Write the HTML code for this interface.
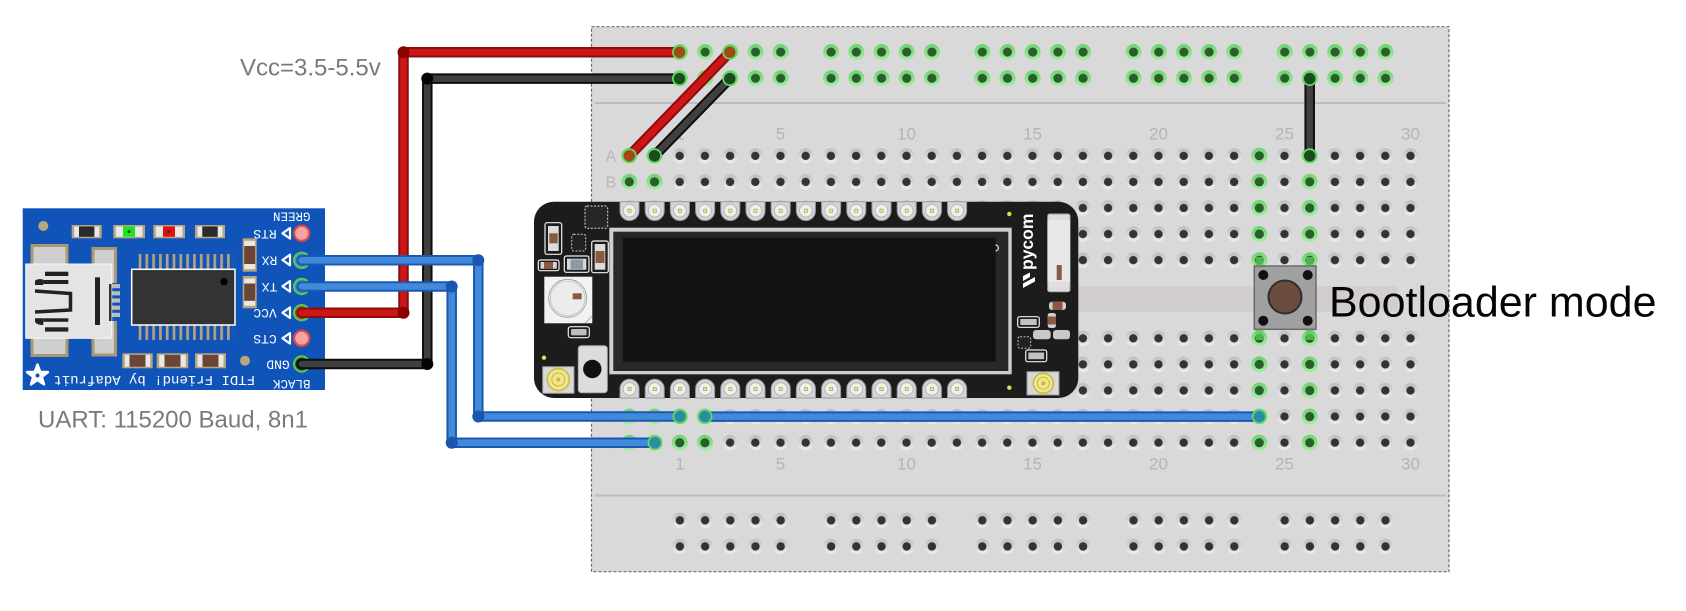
<!DOCTYPE html>
<html><head><meta charset="utf-8">
<style>html,body{margin:0;padding:0;background:#fff;}svg{display:block}</style></head>
<body>
<svg xmlns="http://www.w3.org/2000/svg" xmlns:xlink="http://www.w3.org/1999/xlink" width="1686" height="611" viewBox="0 0 1686 611">
<defs>
<linearGradient id="hg" x1="0" y1="0" x2="0" y2="1"><stop offset="0" stop-color="#bdbdbd"/><stop offset="1" stop-color="#eeeeee"/></linearGradient>
<linearGradient id="gg" x1="0" y1="0" x2="0" y2="1"><stop offset="0" stop-color="#6bd36b"/><stop offset="1" stop-color="#a9eca9"/></linearGradient>
<g id="dh"><circle r="7.6" fill="url(#hg)"/><circle r="4.2" fill="#333"/></g>
<g id="gh"><circle r="8" fill="url(#gg)"/><circle r="4.6" fill="#2c5e2c"/></g>
<pattern id="pm" patternUnits="userSpaceOnUse" x="616.7" y="142.77" width="25.2" height="26.07"><use href="#dh" x="12.6" y="13.03"/></pattern>
<pattern id="prg" patternUnits="userSpaceOnUse" x="667.3" y="39" width="151.2" height="26.2">
<use href="#gh" x="12.6" y="13.1"/><use href="#gh" x="37.8" y="13.1"/><use href="#gh" x="63" y="13.1"/><use href="#gh" x="88.2" y="13.1"/><use href="#gh" x="113.4" y="13.1"/>
</pattern>
<pattern id="prd" patternUnits="userSpaceOnUse" x="667.3" y="507.2" width="151.2" height="26.1">
<use href="#dh" x="12.6" y="13.1"/><use href="#dh" x="37.8" y="13.1"/><use href="#dh" x="63" y="13.1"/><use href="#dh" x="88.2" y="13.1"/><use href="#dh" x="113.4" y="13.1"/>
</pattern>
<pattern id="legs" patternUnits="userSpaceOnUse" x="138.65" y="0" width="6.8" height="611"><rect x="0" y="0" width="2.7" height="611" fill="#b5a27c"/></pattern>
<g id="pt"><path d="M-9.5,-9 H9.5 V0.3 A9.5,9.5 0 0 1 -9.5,0.3 Z" fill="#d4d4d4" stroke="#9c9c9c" stroke-width="1"/><circle r="6.3" fill="#efefef" stroke="#b0b0b0" stroke-width=".8"/><rect x="-1.6" y="-1.6" width="3.2" height="3.2" fill="#f1e48a" stroke="#a8983a" stroke-width=".6"/></g>
<g id="pb"><path d="M-9.5,9 H9.5 V-0.3 A9.5,9.5 0 0 0 -9.5,-0.3 Z" fill="#d4d4d4" stroke="#9c9c9c" stroke-width="1"/><circle r="6.3" fill="#efefef" stroke="#b0b0b0" stroke-width=".8"/><rect x="-1.6" y="-1.6" width="3.2" height="3.2" fill="#f1e48a" stroke="#a8983a" stroke-width=".6"/></g>
</defs>

<rect width="1686" height="611" fill="#fff"/>

<!-- Breadboard -->
<rect x="591.5" y="26.7" width="857.5" height="545" fill="#d9d9d9" stroke="#6a6a6a" stroke-width="1.2" stroke-dasharray="3 2"/>
<line x1="595" y1="103" x2="1446" y2="103" stroke="#bcbcbc" stroke-width="2"/>
<line x1="595" y1="495.5" x2="1446" y2="495.5" stroke="#bcbcbc" stroke-width="2"/>
<rect x="596" y="286" width="802" height="25.7" fill="#d2cdce"/>

<rect x="667.3" y="39" width="756" height="52.4" fill="url(#prg)"/>
<rect x="667.3" y="507.2" width="756" height="52.2" fill="url(#prd)"/>
<rect x="616.7" y="142.77" width="806.4" height="130.35" fill="url(#pm)"/>
<rect x="616.7" y="325.26" width="806.4" height="130.35" fill="url(#pm)"/>

<!-- green holes -->
<use href="#gh" x="629.3" y="155.8"/><use href="#gh" x="654.5" y="155.8"/><use href="#gh" x="1259.3" y="155.8"/><use href="#gh" x="1309.7" y="155.8"/>
<use href="#gh" x="629.3" y="181.9"/><use href="#gh" x="654.5" y="181.9"/><use href="#gh" x="1259.3" y="181.9"/><use href="#gh" x="1309.7" y="181.9"/>
<use href="#gh" x="1259.3" y="208"/><use href="#gh" x="1309.7" y="208"/>
<use href="#gh" x="1259.3" y="234.1"/><use href="#gh" x="1309.7" y="234.1"/>
<use href="#gh" x="1259.3" y="260.2"/><use href="#gh" x="1309.7" y="260.2"/>
<use href="#gh" x="1259.3" y="338.3"/><use href="#gh" x="1309.7" y="338.3"/>
<use href="#gh" x="1259.3" y="364.4"/><use href="#gh" x="1309.7" y="364.4"/>
<use href="#gh" x="1259.3" y="390.5"/><use href="#gh" x="1309.7" y="390.5"/>
<use href="#gh" x="629.3" y="416.6"/><use href="#gh" x="654.5" y="416.6"/><use href="#gh" x="679.7" y="416.6"/><use href="#gh" x="704.9" y="416.6"/><use href="#gh" x="1259.3" y="416.6"/><use href="#gh" x="1309.7" y="416.6"/>
<use href="#gh" x="629.3" y="442.7"/><use href="#gh" x="654.5" y="442.7"/><use href="#gh" x="679.7" y="442.7"/><use href="#gh" x="704.9" y="442.7"/><use href="#gh" x="1259.3" y="442.7"/><use href="#gh" x="1309.7" y="442.7"/>

<!-- breadboard labels -->
<g font-family="Liberation Sans, sans-serif" font-size="17" fill="#b4b4b4" text-anchor="middle">
<text x="680" y="139.3">1</text><text x="780.5" y="139.3">5</text><text x="906.5" y="139.3">10</text><text x="1032.5" y="139.3">15</text><text x="1158.5" y="139.3">20</text><text x="1284.5" y="139.3">25</text><text x="1410.5" y="139.3">30</text>
<text x="680" y="469.3">1</text><text x="780.5" y="469.3">5</text><text x="906.5" y="469.3">10</text><text x="1032.5" y="469.3">15</text><text x="1158.5" y="469.3">20</text><text x="1284.5" y="469.3">25</text><text x="1410.5" y="469.3">30</text>
</g>
<g font-family="Liberation Sans, sans-serif" font-size="16" fill="#b8b8b8" text-anchor="middle">
<text x="611" y="161.5">A</text><text x="611" y="187.6">B</text><text x="611" y="422.3">I</text><text x="611" y="448.4">J</text>
</g>

<!-- ESP board -->
<rect x="534" y="201.7" width="544.3" height="196.3" rx="20" fill="#1c1c1c"/>
<rect x="609.3" y="227.7" width="402.4" height="146.6" fill="#cfcfcf"/>
<rect x="613.3" y="231.7" width="395" height="139.3" fill="#282828"/>
<rect x="623" y="237.7" width="372.7" height="124" fill="#121212"/>
<path d="M995.5,245 a3,3 0 0 1 0,6" fill="none" stroke="#ddd" stroke-width="1.2"/>

<use href="#pt" x="629.5" y="210.7"/><use href="#pt" x="654.7" y="210.7"/><use href="#pt" x="679.9" y="210.7"/><use href="#pt" x="705.1" y="210.7"/><use href="#pt" x="730.3" y="210.7"/><use href="#pt" x="755.5" y="210.7"/><use href="#pt" x="780.7" y="210.7"/><use href="#pt" x="805.9" y="210.7"/><use href="#pt" x="831.1" y="210.7"/><use href="#pt" x="856.3" y="210.7"/><use href="#pt" x="881.5" y="210.7"/><use href="#pt" x="906.7" y="210.7"/><use href="#pt" x="931.9" y="210.7"/><use href="#pt" x="957.1" y="210.7"/>
<use href="#pb" x="629.5" y="389"/><use href="#pb" x="654.7" y="389"/><use href="#pb" x="679.9" y="389"/><use href="#pb" x="705.1" y="389"/><use href="#pb" x="730.3" y="389"/><use href="#pb" x="755.5" y="389"/><use href="#pb" x="780.7" y="389"/><use href="#pb" x="805.9" y="389"/><use href="#pb" x="831.1" y="389"/><use href="#pb" x="856.3" y="389"/><use href="#pb" x="881.5" y="389"/><use href="#pb" x="906.7" y="389"/><use href="#pb" x="931.9" y="389"/><use href="#pb" x="957.1" y="389"/>

<!-- ESP left components -->
<rect x="585" y="206" width="22.7" height="22.3" rx="2" fill="#262626" stroke="#dcdcdc" stroke-width="1" stroke-dasharray="2 1.5"/>
<rect x="545" y="222.7" width="16.7" height="31.6" rx="2" fill="#1c1c1c" stroke="#eee" stroke-width="1.2"/>
<rect x="548" y="226" width="10.7" height="25" fill="#dcdcdc"/>
<rect x="549.3" y="233.3" width="8.4" height="10" fill="#8a5a40"/>
<rect x="571.7" y="234.3" width="14" height="16.7" rx="2" fill="#222" stroke="#ccc" stroke-width="1" stroke-dasharray="2 1.5"/>
<rect x="591.7" y="241" width="16.6" height="31.7" rx="2" fill="#1c1c1c" stroke="#eee" stroke-width="1.2"/>
<rect x="594.7" y="244" width="10.6" height="25.7" fill="#dcdcdc"/>
<rect x="595.5" y="251" width="9" height="12" fill="#8a5a40"/>
<rect x="538.3" y="260" width="20.7" height="10.7" rx="2" fill="#1c1c1c" stroke="#eee" stroke-width="1.2"/>
<rect x="540.5" y="262" width="16.3" height="6.7" fill="#d4d4d4"/>
<rect x="544" y="262" width="9" height="6.7" fill="#8a5a40"/>
<rect x="564.3" y="256" width="24.7" height="16.3" rx="2" fill="#1c1c1c" stroke="#eee" stroke-width="1.2"/>
<rect x="567" y="258.7" width="19.3" height="11" fill="#d8d8d8"/>
<rect x="570.5" y="259.5" width="12.5" height="9.4" fill="#8d99a6"/>
<rect x="544.3" y="276.7" width="48" height="46.6" fill="#f2f2f2"/>
<circle cx="567.7" cy="298.3" r="19" fill="#ececec" stroke="#9a9a9a" stroke-width=".8"/>
<circle cx="567.7" cy="298.3" r="17.3" fill="none" stroke="#b0b0b0" stroke-width=".6"/>
<rect x="572.7" y="293.3" width="9" height="6" fill="#8a5a40"/>
<line x1="585" y1="323.3" x2="592.3" y2="316" stroke="#999" stroke-width=".8"/>
<rect x="568.3" y="326.7" width="21" height="11" rx="2.5" fill="#1c1c1c" stroke="#eee" stroke-width="1.2"/>
<rect x="571" y="329" width="15.6" height="6.4" rx="1" fill="#bdbdbd"/>
<circle cx="544" cy="357.7" r="2.2" fill="#e6dc50"/>
<rect x="542.7" y="366.7" width="31.3" height="26.6" fill="#d8d8d8" stroke="#999" stroke-width="1"/>
<circle cx="558.3" cy="379.5" r="11" fill="#f0e68c" stroke="#c8b840" stroke-width="1.5"/>
<circle cx="558.3" cy="379.5" r="6.5" fill="none" stroke="#c8b840" stroke-width="1"/>
<circle cx="558.3" cy="379.5" r="2" fill="#c8b840"/>
<rect x="578.3" y="345.7" width="29" height="47" rx="3" fill="#dcdcdc" stroke="#a8a8a8" stroke-width="1"/>
<circle cx="592.3" cy="369" r="9.2" fill="#111"/>

<!-- ESP right components -->
<circle cx="1009.3" cy="214" r="2.2" fill="#e6dc50"/>
<circle cx="1009.3" cy="387.7" r="2.2" fill="#e6dc50"/>
<text transform="translate(1033,270) rotate(-90)" font-family="Liberation Sans, sans-serif" font-size="17.5" font-weight="bold" fill="#fff">pycom</text>
<polygon points="1023,288 1023,283.5 1035,277 1035,281.5" fill="#fff"/>
<polygon points="1023,281 1023,276 1030,272.5 1030,277" fill="#fff"/>
<rect x="1047.7" y="214" width="22.3" height="77.7" rx="2" fill="#dedede" stroke="#a8a8a8" stroke-width="1"/>
<rect x="1047.7" y="220" width="22.3" height="62" fill="#e8e8e8"/>
<rect x="1056.7" y="265" width="5" height="15" fill="#8a5a40"/>
<rect x="1049" y="301.7" width="17" height="8.3" rx="3" fill="#cfcfcf"/>
<rect x="1052.5" y="301.7" width="10" height="8.3" fill="#8a5a40"/>
<rect x="1047.7" y="313" width="8.3" height="15" rx="2.5" fill="#cfcfcf"/>
<rect x="1047.7" y="316.5" width="8.3" height="8" fill="#8a5a40"/>
<rect x="1017.7" y="316.7" width="21.6" height="10.6" rx="2" fill="#1c1c1c" stroke="#eee" stroke-width="1.2"/>
<rect x="1020.3" y="319" width="16.4" height="6" fill="#c2c2c2"/>
<rect x="1033" y="330" width="17.7" height="9.3" rx="3" fill="#c8c8c8"/>
<rect x="1053" y="330" width="17" height="9.3" rx="3" fill="#c8c8c8"/>
<rect x="1018" y="336.7" width="12.7" height="11.6" rx="2" fill="#222" stroke="#bbb" stroke-width="1" stroke-dasharray="2 1.5"/>
<rect x="1025.7" y="350" width="21" height="11.7" rx="2" fill="#1c1c1c" stroke="#eee" stroke-width="1.2"/>
<rect x="1028.3" y="352.5" width="15.8" height="6.7" fill="#c2c2c2"/>
<rect x="1027" y="371.7" width="32" height="23.3" fill="#d8d8d8" stroke="#999" stroke-width="1"/>
<circle cx="1043.3" cy="383.3" r="10" fill="#f0e68c" stroke="#c8b840" stroke-width="1.5"/>
<circle cx="1043.3" cy="383.3" r="6" fill="none" stroke="#c8b840" stroke-width="1"/>
<circle cx="1043.3" cy="383.3" r="2" fill="#c8b840"/>

<!-- push button -->
<rect x="1255.5" y="257" width="8" height="12" fill="#5fcf5f" opacity=".75"/>
<rect x="1305.7" y="257" width="8" height="12" fill="#5fcf5f" opacity=".75"/>
<rect x="1255.5" y="327" width="8" height="13" fill="#5fcf5f" opacity=".75"/>
<rect x="1305.7" y="327" width="8" height="13" fill="#5fcf5f" opacity=".75"/>
<rect x="1254.3" y="266" width="61.7" height="63.3" fill="#a0a0a0" stroke="#6a6a6a" stroke-width="1.5"/>
<circle cx="1263.3" cy="275" r="5" fill="#111"/><circle cx="1307.7" cy="275" r="5" fill="#111"/>
<circle cx="1263.3" cy="320.7" r="5" fill="#111"/><circle cx="1307.7" cy="320.7" r="5" fill="#111"/>
<circle cx="1285" cy="297" r="16.5" fill="#6b4c3e" stroke="#2e2e2e" stroke-width="2"/>

<!-- FTDI board -->
<rect x="22.7" y="208.3" width="302.3" height="181.7" fill="#1154b9"/>
<circle cx="43.3" cy="226" r="5" fill="#b9a67e"/>
<circle cx="245" cy="360.7" r="5" fill="#b9a67e"/>
<!-- top SMDs -->
<rect x="71.7" y="225" width="30" height="13.3" fill="#b8a47c"/><rect x="74.2" y="226.5" width="25" height="10.3" fill="#e8e8e8"/><rect x="79" y="226.5" width="15.4" height="10.3" fill="#2a2a2a"/>
<rect x="113.3" y="225" width="31.7" height="13.3" fill="#b8a47c"/><rect x="115.8" y="226.5" width="26.7" height="10.3" fill="#e8e8e8"/><rect x="123" y="226.5" width="12" height="10.3" fill="#1de41d"/><circle cx="129" cy="231.6" r="1.4" fill="#333"/>
<rect x="153.3" y="225" width="31.7" height="13.3" fill="#b8a47c"/><rect x="155.8" y="226.5" width="26.7" height="10.3" fill="#e8e8e8"/><rect x="163" y="226.5" width="12" height="10.3" fill="#e01010"/><circle cx="169" cy="231.6" r="1.4" fill="#333"/>
<rect x="195" y="225" width="30" height="13.3" fill="#b8a47c"/><rect x="197.5" y="226.5" width="25" height="10.3" fill="#e8e8e8"/><rect x="202.3" y="226.5" width="15.4" height="10.3" fill="#2a2a2a"/>
<!-- right vertical SMDs -->
<rect x="242.7" y="238.3" width="14" height="33.4" fill="#b8a47c"/><rect x="244.2" y="240.8" width="11" height="28.4" fill="#e8e8e8"/><rect x="244.2" y="246" width="11" height="18" fill="#6b4636"/>
<rect x="242.7" y="276" width="14" height="32.3" fill="#b8a47c"/><rect x="244.2" y="278.5" width="11" height="27.3" fill="#e8e8e8"/><rect x="244.2" y="283.5" width="11" height="17.3" fill="#6b4636"/>
<!-- bottom SMDs -->
<rect x="122.3" y="353.3" width="30.4" height="15" fill="#b8a47c"/><rect x="124.8" y="354.8" width="25.4" height="12" fill="#e8e8e8"/><rect x="129.5" y="354.8" width="16" height="12" fill="#6b4636"/>
<rect x="156.7" y="353.3" width="31.6" height="15" fill="#b8a47c"/><rect x="159.2" y="354.8" width="26.6" height="12" fill="#e8e8e8"/><rect x="164.5" y="354.8" width="16" height="12" fill="#6b4636"/>
<rect x="195" y="353.3" width="31" height="15" fill="#b8a47c"/><rect x="197.5" y="354.8" width="26" height="12" fill="#e8e8e8"/><rect x="202.5" y="354.8" width="16" height="12" fill="#6b4636"/>
<!-- USB connector -->
<rect x="32" y="245.5" width="35" height="110" fill="#cfcfcf" stroke="#a99873" stroke-width="3"/>
<rect x="93" y="248.5" width="22.5" height="106.5" fill="#cfcfcf" stroke="#a99873" stroke-width="3"/>
<rect x="109" y="283" width="11" height="38" fill="#1154b9"/>
<rect x="111" y="284" width="9" height="4.2" fill="#bbb"/><rect x="111" y="291.2" width="9" height="4.2" fill="#bbb"/><rect x="111" y="298.4" width="9" height="4.2" fill="#bbb"/><rect x="111" y="305.6" width="9" height="4.2" fill="#bbb"/><rect x="111" y="312.8" width="9" height="4.2" fill="#bbb"/>
<rect x="25.7" y="264" width="86" height="74.3" fill="#e4e4e4" stroke="#f5f5f5" stroke-width="1"/>
<rect x="109" y="284" width="2.5" height="37" fill="#333"/>
<rect x="45" y="271.7" width="23.3" height="4.3" fill="#222"/>
<rect x="43.3" y="280" width="25" height="4" fill="#222"/>
<path d="M35,285 L35,281 Q37,278.3 43.3,279.5 L43.3,285 Z" fill="#222"/>
<polyline points="35,291 70.5,293.5 70.5,310 35,312" fill="none" stroke="#222" stroke-width="3.5"/>
<rect x="43.3" y="318.3" width="25" height="3.5" fill="#222"/>
<path d="M35,318.3 L43.3,318.3 L43.3,325 Q37,325 35,322 Z" fill="#222"/>
<rect x="45" y="327.3" width="23.3" height="4.3" fill="#222"/>
<rect x="95" y="277.3" width="5" height="47.7" fill="#222"/>
<!-- chip -->
<rect x="138.65" y="254" width="95.2" height="16" fill="url(#legs)"/>
<rect x="138.65" y="325" width="95.2" height="15" fill="url(#legs)"/>
<rect x="131.7" y="269.3" width="103.3" height="55.7" fill="#333" stroke="#fff" stroke-width="1.5"/>
<circle cx="224" cy="281.7" r="3.7" fill="#000"/>
<!-- labels on board -->
<g font-family="Liberation Mono, monospace" font-size="13" fill="#fff" text-anchor="middle" dominant-baseline="central">
<text x="265" y="233.3" transform="rotate(180 265 233.3)">RTS</text>
<text x="269.5" y="260" transform="rotate(180 269.5 260)">RX</text>
<text x="269.5" y="286.3" transform="rotate(180 269.5 286.3)">TX</text>
<text x="265" y="312.7" transform="rotate(180 265 312.7)">VCC</text>
<text x="265" y="338.3" transform="rotate(180 265 338.3)">CTS</text>
<text x="278" y="364" transform="rotate(180 278 364)">GND</text>
<text x="291.7" y="215.3" font-size="12.5" transform="rotate(180 291.7 215.3)">GREEN</text>
<text x="291.7" y="382.8" font-size="12.5" transform="rotate(180 291.7 382.8)">BLACK</text>
<text x="154.2" y="378.8" font-size="14" transform="rotate(180 154.2 378.8)">FTDI Friend! by Adafruit</text>
</g>
<polygon points="37.5,364.5 40.15,371.86 47.96,372.1 41.78,376.89 43.97,384.4 37.5,380 31.03,384.4 33.22,376.89 27.04,372.1 34.85,371.86" fill="#fff" stroke="#fff" stroke-width="2.5" stroke-linejoin="round"/>
<circle cx="37.5" cy="375.5" r="2" fill="#1154b9"/>
<!-- pin triangles -->
<g fill="none" stroke="#fff" stroke-width="2.2" stroke-linejoin="round">
<polygon points="282.5,233.3 290,228 290,238.6"/>
<polygon points="282.5,260 290,254.7 290,265.3"/>
<polygon points="282.5,286.3 290,281 290,291.6"/>
<polygon points="282.5,312.7 290,307.4 290,318"/>
<polygon points="282.5,338.3 290,333 290,343.6"/>
</g>
<!-- pins -->
<circle cx="301.7" cy="233.3" r="7.6" fill="#f5a3a3" stroke="#d84a4a" stroke-width="2.2"/>
<circle cx="301.7" cy="338.3" r="7.6" fill="#f5a3a3" stroke="#d84a4a" stroke-width="2.2"/>
<circle cx="301.7" cy="260.3" r="7.6" fill="#3a86c0" stroke="#55c855" stroke-width="2.2"/>
<circle cx="301.7" cy="286.5" r="7.6" fill="#3a86c0" stroke="#55c855" stroke-width="2.2"/>
<circle cx="301.7" cy="312.7" r="7.6" fill="#9a3a14" stroke="#55c855" stroke-width="2.2"/>
<circle cx="301.7" cy="364" r="7.6" fill="#1f3f1f" stroke="#55c855" stroke-width="2.2"/>

<!-- Wires: red & black -->
<g fill="none" stroke-linecap="round" stroke-linejoin="round">
<polyline points="301.7,312.7 403.5,312.7 403.5,52.2 679.5,52.2" stroke="#8c0c0c" stroke-width="10.5"/>
<polyline points="301.7,312.7 403.5,312.7 403.5,52.2 679.5,52.2" stroke="#cc1717" stroke-width="6.5"/>
<polyline points="301.7,364 427.3,364 427.3,78.6 679.5,78.6" stroke="#0d0d0d" stroke-width="10.5"/>
<polyline points="301.7,364 427.3,364 427.3,78.6 679.5,78.6" stroke="#404040" stroke-width="6.5"/>
<line x1="629.3" y1="155.8" x2="729.8" y2="52.2" stroke="#8c0c0c" stroke-width="10.5"/>
<line x1="629.3" y1="155.8" x2="729.8" y2="52.2" stroke="#cc1717" stroke-width="6.5"/>
<line x1="654.5" y1="155.8" x2="729.8" y2="78.6" stroke="#0d0d0d" stroke-width="10.5"/>
<line x1="654.5" y1="155.8" x2="729.8" y2="78.6" stroke="#404040" stroke-width="6.5"/>
<line x1="1309.7" y1="78.6" x2="1309.7" y2="155.8" stroke="#0d0d0d" stroke-width="10.5"/>
<line x1="1309.7" y1="78.6" x2="1309.7" y2="155.8" stroke="#404040" stroke-width="6.5"/>
</g>
<circle cx="403.5" cy="52.2" r="6" fill="#8c0000"/><circle cx="403.5" cy="312.7" r="6" fill="#8c0000"/>
<circle cx="427.3" cy="78.6" r="6" fill="#050505"/><circle cx="427.3" cy="364" r="6" fill="#050505"/>

<!-- Wires: blue -->
<g fill="none" stroke-linecap="round" stroke-linejoin="round">
<polyline points="301.7,260.3 478.3,260.3 478.3,416.5 680,416.5" stroke="#1b58b3" stroke-width="10.5"/>
<polyline points="301.7,260.3 478.3,260.3 478.3,416.5 680,416.5" stroke="#418ad9" stroke-width="6.5"/>
<polyline points="301.7,286.5 451.7,286.5 451.7,442.7 655,442.7" stroke="#1b58b3" stroke-width="10.5"/>
<polyline points="301.7,286.5 451.7,286.5 451.7,442.7 655,442.7" stroke="#418ad9" stroke-width="6.5"/>
<line x1="705" y1="416.6" x2="1259.3" y2="416.6" stroke="#1b58b3" stroke-width="10.5"/>
<line x1="705" y1="416.6" x2="1259.3" y2="416.6" stroke="#418ad9" stroke-width="6.5"/>
</g>
<circle cx="478.3" cy="260.3" r="6" fill="#1a55b0"/><circle cx="478.3" cy="416.5" r="6" fill="#1a55b0"/>
<circle cx="451.7" cy="286.5" r="6" fill="#1a55b0"/><circle cx="451.7" cy="442.7" r="6" fill="#1a55b0"/>

<!-- wire ends on breadboard -->
<g stroke="#62d862" stroke-width="1.8">
<circle cx="679.5" cy="52.2" r="6.6" fill="#a04a16"/>
<circle cx="729.8" cy="52.2" r="6.6" fill="#a04a16"/>
<circle cx="629.3" cy="155.8" r="6.6" fill="#a04a16"/>
<circle cx="679.5" cy="78.6" r="6.6" fill="#1f4a1f"/>
<circle cx="729.8" cy="78.6" r="6.6" fill="#1f4a1f"/>
<circle cx="654.5" cy="155.8" r="6.6" fill="#1f4a1f"/>
<circle cx="1309.7" cy="78.6" r="6.6" fill="#1f4a1f"/>
<circle cx="1309.7" cy="155.8" r="6.6" fill="#1f4a1f"/>
<circle cx="680" cy="416.5" r="6.6" fill="#2c8ca6"/>
<circle cx="705" cy="416.6" r="6.6" fill="#2c8ca6"/>
<circle cx="1259.3" cy="416.6" r="6.6" fill="#2c8ca6"/>
<circle cx="655" cy="442.7" r="6.6" fill="#2c8ca6"/>
</g>

<!-- Labels -->
<text x="240" y="75.5" font-family="Liberation Sans, sans-serif" font-size="24" fill="#7a7a7a">Vcc=3.5-5.5v</text>
<text x="38" y="427.5" font-family="Liberation Sans, sans-serif" font-size="24" fill="#7a7a7a">UART: 115200 Baud, 8n1</text>
<text x="1329" y="316.7" font-family="Liberation Sans, sans-serif" font-size="43" fill="#050505">Bootloader mode</text>
</svg>
</body></html>
